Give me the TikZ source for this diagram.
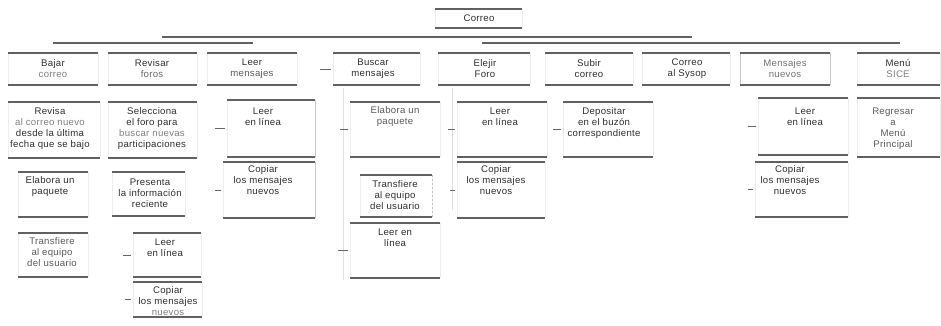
\documentclass[tikz,border=0pt]{standalone}
\usepackage{fontspec}
\setmainfont{Liberation Sans}
\newfontfamily\chartfont[LetterSpace=3]{Liberation Sans}
\usetikzlibrary{fit}
\newcommand\mkbox[5]{\node[boxshape, fit={(#2,#4) (#3,#5)}] (#1) {};}
\begin{document}
\begin{tikzpicture}[x=1pt,y=-1pt,
  rule/.style={draw=black!62, line width=1.3pt},
  sideline/.style={draw=black!7, line width=0.5pt},
  visside/.style={draw=black!22, line width=0.6pt},
  tick/.style={draw=black!60, line width=1pt},
  faint/.style={draw=black!12, line width=0.8pt},
  boxshape/.style={inner sep=0pt, outer sep=0pt, draw=none},
  txt/.style={font=\chartfont\fontsize{9.6}{11}\selectfont, text=black!82, align=center, inner sep=0pt}]
\useasboundingbox[fill=white] (0,0) rectangle (941,325);

% ---------- boxes ----------
\mkbox{c0}{435}{522}{9}{28}
\mkbox{b1}{8}{98}{53}{85}
\mkbox{b2}{108}{197}{53}{85}
\mkbox{b3}{207}{297}{53}{85}
\mkbox{b4}{333}{420}{53}{85}
\mkbox{b5}{438}{530}{53}{85}
\mkbox{b6}{545}{633}{53}{85}
\mkbox{b7}{642}{730}{53}{85}
\mkbox{b8}{740}{830}{53}{85}
\mkbox{b9}{857}{940}{53}{85}
\mkbox{c11}{8}{100}{102}{158}
\mkbox{c12}{18}{88}{172}{217}
\mkbox{c13}{18}{88}{233}{277}
\mkbox{c21}{108}{197}{102}{158}
\mkbox{c22}{112}{185}{172}{216}
\mkbox{c23}{133}{201}{233}{277}
\mkbox{c24}{133}{202}{282}{317}
\mkbox{c31}{227}{315}{100}{157}
\mkbox{c32}{223}{315}{162}{218}
\mkbox{c41}{350}{440}{102}{157}
\mkbox{c42}{360}{432}{175}{217}
\mkbox{c43}{350}{440}{223}{278}
\mkbox{c51}{457}{547}{102}{157}
\mkbox{c52}{457}{545}{162}{218}
\mkbox{c61}{563}{653}{102}{157}
\mkbox{c81}{758}{848}{98}{155}
\mkbox{c82}{755}{848}{162}{217}
\mkbox{c91}{857}{940}{98}{157}

\foreach \n in {c0,b1,b2,b3,b4,b5,b6,b7,b8,b9,c11,c12,c13,c21,c22,c23,c24,c31,c32,c41,c42,c43,c51,c52,c61,c81,c82,c91}{
  \draw[sideline] (\n.north west) -- (\n.south west) (\n.north east) -- (\n.south east);
}
\draw[visside] (b8.north west) -- (b8.south west) (b8.north east) -- (b8.south east);
\draw[visside] (c31.north east) -- (c31.south east) (c32.north east) -- (c32.south east);
\draw[visside, dash pattern=on 2pt off 2pt] (c42.north east) -- (c42.south east);
\foreach \n in {c0,b1,b2,b3,b4,b5,b6,b7,b8,b9,c11,c12,c13,c21,c22,c23,c24,c31,c32,c41,c42,c43,c51,c52,c61,c81,c82,c91}{
  \draw[rule] (\n.north west) -- (\n.north east) (\n.south west) -- (\n.south east);
}

% ---------- texts ----------
\node[txt] (t0) at (479,18) {Correo};
\node[txt] (tb1) at (53,68.5) {Bajar\\{\color{black!50}correo}};
\node[txt] (tb2) at (152,68.5) {Revisar\\{\color{black!60}foros}};
\node[txt] (tb3) at (252,68.5) {Leer\\{\color{black!65}mensajes}};
\node[txt] (tb4) at (373,68.5) {Buscar\\mensajes};
\node[txt] (tb5) at (485,68.5) {Elejir\\Foro};
\node[txt] (tb6) at (589,68.5) {Subir\\correo};
\node[txt] (tb7) at (687,68.5) {Correo\\al Sysop};
\node[txt, text=black!55] (tb8) at (785,68.5) {Mensajes\\nuevos};
\node[txt] (tb9) at (898,68.5) {Menú\\{\color{black!50}SICE}};

\node[txt] (t11) at (50,129) {Revisa\\{\color{black!50}al correo nuevo}\\desde la última\\fecha que se bajo};
\node[txt] (t12) at (50,187) {Elabora un\\paquete};
\node[txt, text=black!65] (t13) at (52,252) {Transfiere\\al equipo\\del usuario};
\node[txt] (t21) at (152,129) {Selecciona\\el foro para\\{\color{black!50}buscar nuevas}\\participaciones};
\node[txt] (t22) at (150,193) {Presenta\\la información\\reciente};
\node[txt] (t23) at (165,247.5) {Leer\\en línea};
\node[txt] (t24) at (168,301) {Copiar\\los mensajes\\{\color{black!50}nuevos}};
\node[txt] (t31) at (263,117) {Leer\\en línea};
\node[txt] (t32) at (263,180) {Copiar\\los mensajes\\nuevos};
\node[txt, text=black!65] (t41) at (395,117) {Elabora un\\paquete};
\node[txt] (t42) at (395,195) {Transfiere\\al equipo\\del usuario};
\node[txt] (t43) at (395,238) {Leer en\\línea};
\node[txt] (t51) at (500,117) {Leer\\en línea};
\node[txt] (t52) at (496,180) {Copiar\\los mensajes\\nuevos};
\node[txt] (t61) at (604,123) {Depositar\\en el buzón\\correspondiente};
\node[txt] (t81) at (805,117) {Leer\\en línea};
\node[txt] (t82) at (790,180) {Copiar\\los mensajes\\nuevos};
\node[txt, text=black!65] (t91) at (893,129) {Regresar\\a\\Menú\\Principal};

% ---------- tree lines ----------
\coordinate (a1) at (162,37); \coordinate (a2) at (692,37);
\coordinate (l1) at (53,43);  \coordinate (l2) at (253,43);
\coordinate (r1) at (482,43); \coordinate (r2) at (900,43);
\draw[rule] (a1) -- (a2);
\draw[rule] (l1) -- (l2);
\draw[rule] (r1) -- (r2);

\coordinate (v4a) at (343,88);  \coordinate (v4b) at (343,280);
\coordinate (v5a) at (452,88);  \coordinate (v5b) at (452,210);
\draw[faint] (v4a) -- (v4b);
\draw[faint] (v5a) -- (v5b);

% ---------- ticks ----------
\foreach \n/\d in {b4/11,c23/8,c24/6,c31/10,c32/6,c41/8,c43/10,c51/7,c52/5,c61/8,c81/8,c82/5}{
  \coordinate (k\n) at ([xshift=-\d pt-2pt]\n.west);
  \coordinate (e\n) at ([xshift=-2pt]\n.west);
  \draw[tick] (k\n) -- (e\n);
}
\end{tikzpicture}
\end{document}
